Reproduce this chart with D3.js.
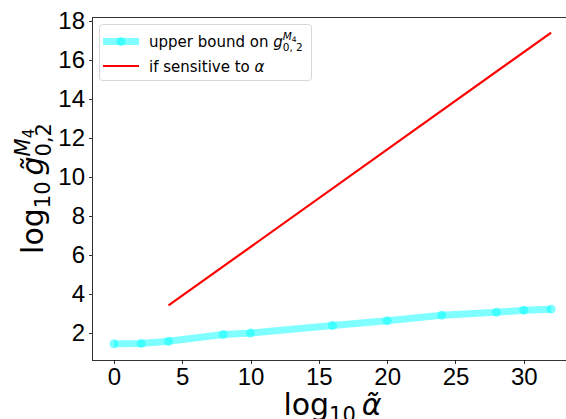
<!DOCTYPE html>
<meta charset='utf-8'>
<head>
<style>
  body { margin: 0; background: #fff; }
  svg { font-family: 'DejaVu Sans', sans-serif; }
  .axis path, .axis line { fill: none; stroke: #000; stroke-width: 0.8; shape-rendering: crispEdges; }
  .axis text { font-size: 24px; fill: #000; }
</style>
</head>
<body>
<script src='https://cdn.jsdelivr.net/npm/d3@7'></script>
<script>

// upper bound on g_{0,2}^{M4}
var boundX = [0, 2, 4, 8, 10, 16, 20, 24, 28, 30, 32],
    boundY = [1.43, 1.45, 1.56, 1.91, 1.98, 2.37, 2.61, 2.9, 3.05, 3.15, 3.21];

// if sensitive to alpha
var sensX = [4, 32],
    sensY = [3.4, 17.4];

var xTicks = [0, 5, 10, 15, 20, 25, 30],
    yTicks = [2, 4, 6, 8, 10, 12, 14, 16, 18];

var margin = {top: 17, left: 92},
    width = 481,
    height = 343;

var x = d3.scaleLinear().domain([-1.6, 33.6]).range([0, width]),
    y = d3.scaleLinear().domain([0.6, 18.2]).range([height, 0]);

var svg = d3.select('body').append('svg')
    .attr('width', 566)
    .attr('height', 419);

var g = svg.append('g')
    .attr('transform', 'translate(' + margin.left + ',' + margin.top + ')');

g.append('g')
    .attr('class', 'x axis')
    .attr('transform', 'translate(0,' + height + ')')
    .call(d3.axisBottom(x).tickValues(xTicks).tickSize(3.5).tickPadding(4))
  .select('.domain').remove();

g.append('g')
    .attr('class', 'y axis')
    .call(d3.axisLeft(y).tickValues(yTicks).tickSize(3.5).tickPadding(3.5))
  .select('.domain').remove();

// frame
g.append('rect')
    .attr('width', width).attr('height', height)
    .attr('fill', 'none').attr('stroke', '#000').attr('stroke-width', 0.8)
    .attr('shape-rendering', 'crispEdges');

var line = d3.line().x(d => x(d[0])).y(d => y(d[1]));
var bound = boundX.map((v, i) => [v, boundY[i]]);
var sens = sensX.map((v, i) => [v, sensY[i]]);

g.append('path')
    .datum(bound)
    .attr('d', line)
    .attr('fill', 'none')
    .attr('stroke', 'cyan')
    .attr('stroke-width', 7)
    .attr('stroke-opacity', 0.5)
    .attr('stroke-linejoin', 'round');

g.selectAll('.dot')
    .data(bound)
  .enter().append('circle')
    .attr('cx', d => x(d[0]))
    .attr('cy', d => y(d[1]))
    .attr('r', 4.5)
    .attr('fill', 'cyan')
    .attr('fill-opacity', 0.5);

g.append('path')
    .datum(sens)
    .attr('d', line)
    .attr('fill', 'none')
    .attr('stroke', 'red')
    .attr('stroke-width', 2.2);

// x label
var xl = svg.append('text')
    .attr('x', margin.left + width / 2)
    .attr('y', 415)
    .attr('text-anchor', 'middle')
    .style('font-size', '30px');
xl.append('tspan').text('log');
xl.append('tspan').attr('dy', 7).style('font-size', '21px').text('10');
xl.append('tspan').attr('dy', -7).text('\u2009');
xl.append('tspan').style('font-style', 'italic').text('α\u0303');

// y label, with stacked super/subscripts
var yl = svg.append('text')
    .attr('transform', 'translate(43,' + (margin.top + height / 2) + ') rotate(-90)')
    .attr('text-anchor', 'middle')
    .style('font-size', '30px');
yl.append('tspan').text('log');
yl.append('tspan').attr('dy', 7).style('font-size', '21px').text('10');
yl.append('tspan').attr('dy', -7).text('\u2009');
yl.append('tspan').style('font-style', 'italic').text('g\u0303');
var sup = yl.append('tspan').attr('dy', -13).style('font-size', '21px');
sup.append('tspan').style('font-style', 'italic').text('M');
sup.append('tspan').attr('dy', 4).style('font-size', '15px').text('4');
var sub = yl.append('tspan').attr('dy', 17).style('font-size', '21px').text('0,2');
var supLen = sup.node().getComputedTextLength();
sub.attr('dx', -supLen);

// legend
var lg = svg.append('g');
lg.append('rect')
    .attr('x', 99.5).attr('y', 24.5)
    .attr('width', 212).attr('height', 56)
    .attr('rx', 3)
    .attr('fill', '#fff').attr('fill-opacity', 0.8)
    .attr('stroke', '#d6d6d6').attr('stroke-width', 1);

lg.append('line')
    .attr('x1', 103).attr('x2', 139).attr('y1', 41.5).attr('y2', 41.5)
    .attr('stroke', 'cyan').attr('stroke-width', 7).attr('stroke-opacity', 0.5);
lg.append('circle')
    .attr('cx', 121).attr('cy', 41.5).attr('r', 4.5)
    .attr('fill', 'cyan').attr('fill-opacity', 0.5);
lg.append('line')
    .attr('x1', 103).attr('x2', 139).attr('y1', 66).attr('y2', 66)
    .attr('stroke', 'red').attr('stroke-width', 2.2);

var t1 = lg.append('text').attr('x', 149).attr('y', 47).style('font-size', '15px');
t1.append('tspan').text('upper bound on ');
t1.append('tspan').style('font-style', 'italic').text('g');
var lsup = t1.append('tspan').attr('dy', -7).style('font-size', '10.5px');
lsup.append('tspan').style('font-style', 'italic').text('M');
lsup.append('tspan').attr('dy', 2).style('font-size', '7.5px').text('4');
var lsub = t1.append('tspan').attr('dy', 9).style('font-size', '10.5px').text('0, 2');
lsub.attr('dx', -lsup.node().getComputedTextLength());

var t2 = lg.append('text').attr('x', 149).attr('y', 72).style('font-size', '15px');
t2.append('tspan').text('if sensitive to ');
t2.append('tspan').style('font-style', 'italic').text('α');

</script>
</body>
